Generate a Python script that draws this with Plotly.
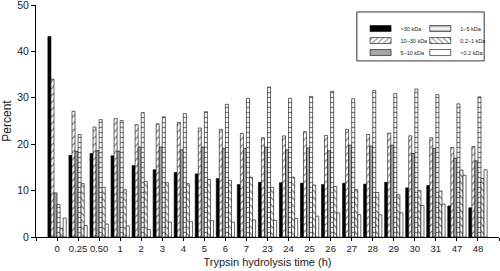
import plotly.graph_objects as go

time_labels = ["0", "0.25", "0.50", "1", "2", "3", "4", "5", "6", "7", "23", "24",
               "25", "26", "27", "28", "29", "30", "31", "47", "48"]

gt30 = [43.2, 17.6, 18.0, 17.5, 15.4, 14.5, 13.9, 13.6, 12.6, 11.3, 11.8, 11.7,
        11.6, 11.3, 11.6, 11.4, 11.8, 10.6, 11.1, 6.7, 6.3]
k10_30 = [34.0, 27.1, 23.7, 25.5, 24.2, 24.4, 24.7, 23.5, 23.2, 22.3, 21.4, 21.8,
          22.7, 21.9, 23.2, 22.1, 22.4, 21.8, 21.4, 19.3, 19.5]
k5_10 = [9.5, 18.5, 18.6, 18.5, 19.4, 19.4, 18.8, 19.4, 19.1, 19.1, 19.4, 18.8,
         19.2, 18.6, 19.8, 19.6, 19.8, 18.0, 19.1, 17.0, 16.4]
k1_5 = [7.0, 22.1, 25.3, 25.1, 26.8, 25.9, 26.6, 27.0, 28.6, 29.9, 32.3, 29.9,
        30.3, 31.4, 29.8, 31.6, 30.9, 31.9, 30.7, 28.7, 30.2]
k02_1 = [1.9, 11.5, 10.7, 10.2, 12.0, 11.7, 11.5, 12.4, 12.2, 12.9, 10.7, 12.9,
         11.2, 10.9, 10.2, 9.6, 9.1, 10.0, 9.9, 14.4, 12.6]
lt02 = [4.1, 2.5, 2.8, 2.4, 1.6, 3.2, 3.3, 3.5, 3.2, 3.7, 3.6, 4.0,
        4.5, 5.2, 4.8, 4.8, 5.2, 6.8, 7.1, 13.3, 14.5]

series = [
    (">30 kDa", gt30, "black", "", "legend"),
    ("10–30 kDa", k10_30, "white", "/", "legend"),
    ("5–10 kDa", k5_10, "#a6a6a6", "", "legend"),
    ("1–5 kDa", k1_5, "white", "-", "legend2"),
    ("0.2–1 kDa", k02_1, "white", "\\", "legend2"),
    ("<0.2 kDa", lt02, "white", "", "legend2"),
]

xpos = list(range(len(time_labels)))
tick_positions = [-1] + xpos + [len(time_labels)]
tick_texts = [""] + time_labels + [""]
FONT = "Liberation Sans, Arial, sans-serif"

fig = go.Figure()
for name, vals, color, shape, leg in series:
    marker = dict(color=color, line=dict(color="black", width=0.6))
    if shape:
        marker["pattern"] = dict(shape=shape, size=5, solidity=0.25,
                                 fgcolor="black", bgcolor="white")
    fig.add_trace(go.Bar(x=xpos, y=vals, name=name, marker=marker, legend=leg))

legend_common = dict(yanchor="top", xanchor="left", font=dict(size=5.5, family=FONT),
                     bgcolor="rgba(0,0,0,0)", tracegroupgap=0, itemwidth=30)

fig.update_layout(
    width=500, height=271,
    margin=dict(l=36, r=1, t=5, b=34),
    paper_bgcolor="white", plot_bgcolor="white",
    barmode="group", bargap=0.13, bargroupgap=0,
    font=dict(family=FONT, color="#222"),
    showlegend=True,
    legend=dict(x=0.701, y=0.961, **legend_common),
    legend2=dict(x=0.83, y=0.961, **legend_common),
    xaxis=dict(range=[-1, 21], tickmode="array", tickvals=tick_positions, ticktext=tick_texts,
               ticks="outside", ticklen=3, tickcolor="black", showline=True,
               linecolor="black", linewidth=1, showgrid=False, zeroline=False,
               tickfont=dict(size=9.5), automargin=False,
               title=dict(text="Trypsin hydrolysis time (h)", font=dict(size=11), standoff=4)),
    yaxis=dict(range=[0, 50], tickvals=[0, 10, 20, 30, 40, 50], ticks="outside",
               ticklen=4, tickcolor="black", showline=True, linecolor="black",
               linewidth=1, showgrid=False, zeroline=False, tickfont=dict(size=10.5),
               automargin=False, ticklabeloverflow="allow",
               title=dict(text="Percent", font=dict(size=12), standoff=4)),
    shapes=[dict(type="rect", xref="paper", yref="paper", x0=0.693, x1=0.968,
                 y0=0.759, y1=0.970, line=dict(color="#333", width=1))],
)

post_js = """
document.body.style.margin='0px';
try {
  var boxes = document.querySelectorAll('g.scrollbox');
  boxes.forEach(function(sb){
    var items = Array.prototype.slice.call(sb.querySelectorAll('g.traces'));
    var pos = items.map(function(it){
      var m = /translate\\(\\s*([-\\d.]+)[ ,]+([-\\d.]+)\\s*\\)/.exec(it.getAttribute('transform') || '');
      return m ? [parseFloat(m[1]), parseFloat(m[2])] : null;
    });
    if (pos.some(function(v){ return v === null; })) return;
    var y0 = Math.min.apply(null, pos.map(function(v){ return v[1]; }));
    var order = pos.map(function(v, i){ return i; }).sort(function(a, b){ return pos[a][1] - pos[b][1]; });
    order.forEach(function(idx, rank){
      items[idx].setAttribute('transform', 'translate(' + pos[idx][0] + ',' + (y0 + rank * 12) + ')');
    });
  });
  document.querySelectorAll('g.legendpoints path').forEach(function(p){
    p.setAttribute('d', 'M10.5,3H-10.5V-3H10.5Z');
  });
} catch (e) {}
"""

fig.write_html("out.html", config={"displayModeBar": False}, post_script=post_js)
